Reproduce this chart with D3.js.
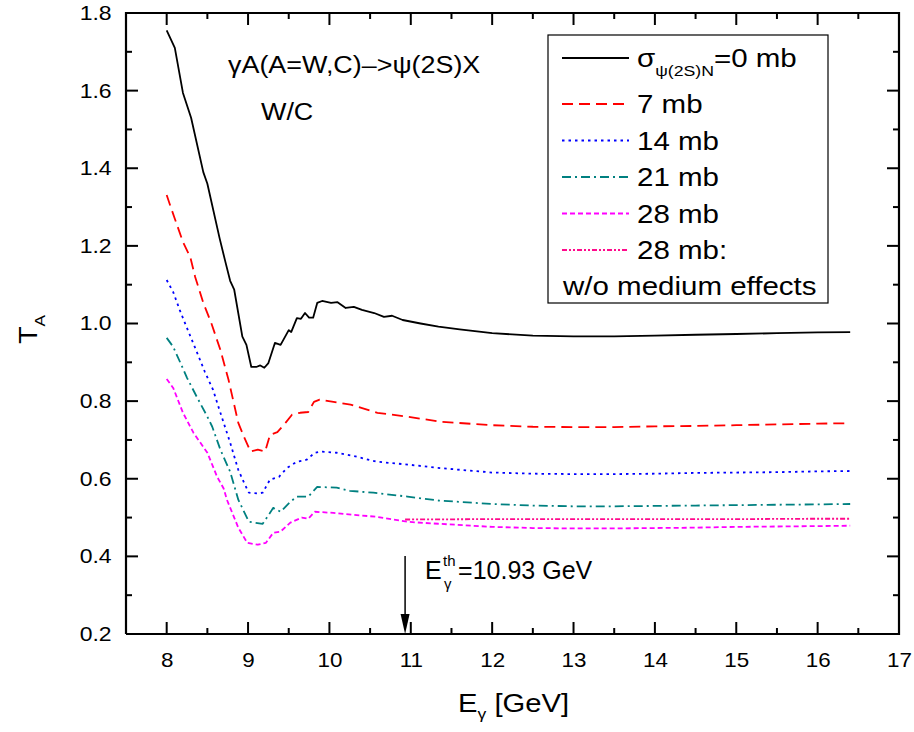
<!DOCTYPE html>
<html>
<head>
<meta charset="utf-8">
<script src="https://cdn.jsdelivr.net/npm/d3@7"></script>
</head>
<body style="margin:0">
<svg id="svg" width="914" height="732" font-family="Liberation Sans, Arial, sans-serif"></svg>
<script>
// values (E in GeV, T_A)
const e0 = [8.0, 8.1, 8.2, 8.3, 8.45, 8.5, 8.65, 8.72, 8.78, 8.83, 8.93, 8.98, 9.04, 9.1, 9.15, 9.2, 9.25, 9.33, 9.4, 9.5, 9.53, 9.6, 9.65, 9.7, 9.75, 9.8, 9.85, 9.91, 10.02, 10.1, 10.2, 10.3, 10.4, 10.55, 10.67, 10.77, 10.9, 11.12, 11.34, 11.6, 12.0, 12.5, 13.0, 13.5, 14.0, 14.5, 15.0, 15.5, 16.0, 16.4];
const t0 = [1.755, 1.71, 1.594, 1.53, 1.39, 1.36, 1.22, 1.16, 1.11, 1.087, 0.966, 0.945, 0.888, 0.888, 0.892, 0.886, 0.898, 0.95, 0.945, 0.983, 0.978, 1.014, 1.012, 1.027, 1.015, 1.015, 1.053, 1.058, 1.053, 1.055, 1.04, 1.043, 1.035, 1.027, 1.017, 1.02, 1.009, 1.0, 0.992, 0.985, 0.975, 0.969, 0.967, 0.967, 0.969, 0.971, 0.973, 0.975, 0.977, 0.978];

const e7 = [8.0, 8.05, 8.1, 8.2, 8.29, 8.35, 8.45, 8.55, 8.66, 8.76, 8.88, 8.95, 9.03, 9.12, 9.21, 9.27, 9.36, 9.46, 9.54, 9.64, 9.74, 9.81, 9.88, 10.05, 10.26, 10.59, 10.96, 11.36, 12.0, 12.5, 13.0, 13.5, 14.0, 14.5, 15.0, 15.5, 16.0, 16.4];
const t7 = [1.331, 1.30, 1.27, 1.21, 1.171, 1.12, 1.053, 1.0, 0.932, 0.855, 0.744, 0.708, 0.67, 0.675, 0.67, 0.713, 0.72, 0.744, 0.765, 0.77, 0.772, 0.798, 0.804, 0.798, 0.791, 0.77, 0.76, 0.747, 0.738, 0.734, 0.733, 0.733, 0.735, 0.736, 0.738, 0.740, 0.742, 0.743];

const e14 = [8.0, 8.08, 8.16, 8.25, 8.35, 8.47, 8.57, 8.66, 8.78, 8.88, 8.95, 9.01, 9.12, 9.18, 9.27, 9.38, 9.48, 9.6, 9.72, 9.82, 9.91, 10.09, 10.29, 10.58, 10.99, 11.33, 12.0, 12.5, 13.0, 13.5, 14.0, 14.5, 15.0, 15.5, 16.0, 16.4];
const t14 = [1.112, 1.081, 1.035, 0.988, 0.937, 0.875, 0.829, 0.77, 0.693, 0.623, 0.59, 0.564, 0.562, 0.564, 0.598, 0.605, 0.628, 0.644, 0.649, 0.667, 0.67, 0.667, 0.659, 0.644, 0.636, 0.628, 0.616, 0.613, 0.612, 0.612, 0.613, 0.615, 0.616, 0.617, 0.619, 0.620];

const e21 = [8.0, 8.08, 8.17, 8.25, 8.37, 8.5, 8.56, 8.66, 8.78, 8.88, 9.01, 9.18, 9.31, 9.4, 9.52, 9.6, 9.74, 9.85, 10.09, 10.25, 10.54, 10.96, 11.34, 12.0, 12.5, 13.0, 13.5, 14.0, 14.5, 15.0, 15.5, 16.0, 16.4];
const t21 = [0.963, 0.94, 0.898, 0.86, 0.811, 0.76, 0.734, 0.675, 0.618, 0.546, 0.489, 0.484, 0.525, 0.515, 0.541, 0.554, 0.554, 0.579, 0.577, 0.569, 0.564, 0.554, 0.544, 0.535, 0.531, 0.529, 0.529, 0.530, 0.531, 0.532, 0.533, 0.534, 0.535];

const e28 = [8.0, 8.08, 8.2, 8.33, 8.5, 8.62, 8.7, 8.74, 8.88, 8.99, 9.12, 9.22, 9.31, 9.4, 9.52, 9.66, 9.74, 9.82, 10.05, 10.29, 10.58, 10.96, 11.34, 12.0, 12.5, 13.0, 13.5, 14.0, 14.5, 15.0, 15.5, 16.0, 16.4];
const t28 = [0.857, 0.834, 0.77, 0.718, 0.667, 0.605, 0.575, 0.546, 0.474, 0.435, 0.43, 0.435, 0.461, 0.464, 0.487, 0.5, 0.497, 0.515, 0.512, 0.507, 0.502, 0.489, 0.484, 0.476, 0.473, 0.472, 0.472, 0.473, 0.474, 0.476, 0.477, 0.478, 0.479];

const eNoMed = [10.93, 12.0, 13.0, 14.0, 15.0, 16.0, 16.4];
const tNoMed = [0.495, 0.496, 0.496, 0.496, 0.496, 0.497, 0.497];

const legendLabels = ["=0 mb", "7 mb", "14 mb", "21 mb", "28 mb", "28 mb:"];
const xTicks = [8, 9, 10, 11, 12, 13, 14, 15, 16, 17];
const xMinor = [7.5, 8.5, 9.5, 10.5, 11.5, 12.5, 13.5, 14.5, 15.5, 16.5];
const yTicks = [0.2, 0.4, 0.6, 0.8, 1.0, 1.2, 1.4, 1.6, 1.8];
const yMinor = [0.3, 0.5, 0.7, 0.9, 1.1, 1.3, 1.5, 1.7];
const threshold = 10.93;

const series = [
    {e: e0, t: t0, color: "#000000", dash: null},
    {e: e7, t: t7, color: "#ff0000", dash: "11,6"},
    {e: e14, t: t14, color: "#0000ff", dash: "2.5,4"},
    {e: e21, t: t21, color: "#008080", dash: "9,4,2,4"},
    {e: e28, t: t28, color: "#ff00ff", dash: "5,3"},
    {e: eNoMed, t: tNoMed, color: "#ff0a8c", dash: "5,2,2,2,2,2"}
];

const svg = d3.select("#svg");
const xs = d3.scaleLinear().domain([7.5, 17]).range([126, 899]);
const ys = d3.scaleLinear().domain([0.2, 1.8]).range([634, 13]);

// the original text is a little wider than Arial, so stretch it horizontally
function stext(parent, px, py, size, sx) {
    return parent.append("text")
        .attr("transform", `translate(${px},${py}) scale(${sx},1)`)
        .attr("font-size", size)
        .attr("fill", "#000");
}

// ****************** frame: one path through the corners of the data box ***************************
const corners = [[7.5, 0.2], [17, 0.2], [17, 1.8], [7.5, 1.8], [7.5, 0.2]];
const edge = d3.line().x(d => xs(d[0])).y(d => ys(d[1]));
svg.append("path")
    .datum(corners)
    .attr("fill", "none")
    .attr("stroke", "#000")
    .attr("stroke-width", 2.2)
    .attr("stroke-linejoin", "miter")
    .attr("d", edge);

// tick marks as short paths through the scales
function tickPath(pts) {
    svg.append("path").datum(pts).attr("fill", "none")
        .attr("stroke", "#000").attr("stroke-width", 2).attr("d", edge);
}
xTicks.forEach(v => { tickPath([[v, 0.2], [v, ys.invert(622)]]); tickPath([[v, 1.8], [v, ys.invert(25)]]); });
xMinor.forEach(v => { tickPath([[v, 0.2], [v, ys.invert(628)]]); tickPath([[v, 1.8], [v, ys.invert(19)]]); });
yTicks.forEach(v => { tickPath([[7.5, v], [xs.invert(138), v]]); tickPath([[17, v], [xs.invert(887), v]]); });
yMinor.forEach(v => { tickPath([[7.5, v], [xs.invert(132), v]]); tickPath([[17, v], [xs.invert(893), v]]); });

// tick labels from d3 axes
const gb = svg.append("g").attr("transform", "translate(0,634)")
    .call(d3.axisBottom(xs).tickValues(xTicks).tickSize(0).tickPadding(19).tickFormat(d3.format("d")));
const gl = svg.append("g").attr("transform", "translate(126,0)")
    .call(d3.axisLeft(ys).tickValues(yTicks).tickSize(0).tickPadding(12.5).tickFormat(d3.format(".1f")));
[gb, gl].forEach(function (g) {
    g.select(".domain").remove();
    g.selectAll("line").remove();
    g.selectAll("text").attr("font-size", 20).attr("fill", "#000")
        .attr("font-family", "Liberation Sans, Arial, sans-serif");
});
gb.selectAll("text").attr("transform", "scale(1.12,1)");
gl.selectAll("text").attr("transform", "scale(1.15,1)");

// axis titles
let xt = stext(svg, 458, 712, 25, 1.17);
xt.append("tspan").text("E");
xt.append("tspan").attr("font-size", 15).attr("dy", 7).text("γ");
xt.append("tspan").attr("dy", -7).text(" [GeV]");

let yt = svg.append("text").attr("transform", "translate(37,344) rotate(-90) scale(1.15,1)")
    .attr("font-size", 25);
yt.append("tspan").text("T");
yt.append("tspan").attr("font-size", 15).attr("dy", 8).text("A");

// ****************** curves ***************************
series.forEach(function (s) {
    svg.append("path")
        .datum(d3.zip(s.e, s.t))
        .attr("fill", "none")
        .attr("stroke", s.color)
        .attr("stroke-width", 1.8)
        .attr("stroke-dasharray", s.dash)
        .attr("stroke-linejoin", "round")
        .attr("d", edge);
});

// ****************** annotations ***************************
stext(svg, 228, 73, 23, 1.17).text("γA(A=W,C)–>ψ(2S)X");
stext(svg, 261, 120, 23, 1.17).text("W/C");

// threshold arrow
const ax = xs(threshold);
svg.append("line").attr("x1", ax).attr("x2", ax).attr("y1", 556).attr("y2", 620)
    .attr("stroke", "#000").attr("stroke-width", 1.5);
svg.append("path")
    .attr("d", `M ${ax - 4.5} 614 L ${ax + 4.5} 614 L ${ax} 634 Z`)
    .attr("fill", "#000");
let eth = svg.append("g").attr("font-size", 25);
eth.append("text").attr("x", ax + 20).attr("y", 579).text("E");
eth.append("text").attr("x", ax + 38).attr("y", 566).attr("font-size", 15).text("th");
eth.append("text").attr("x", ax + 39).attr("y", 589).attr("font-size", 15).text("γ");
eth.append("text").attr("x", ax + 53).attr("y", 579).text("=10.93 GeV");

// ****************** legend ***************************
const lg = svg.append("g");
lg.append("rect").attr("x", 548).attr("y", 35).attr("width", 280).attr("height", 268)
    .attr("fill", "#fff").attr("stroke", "#000").attr("stroke-width", 1.2);
series.forEach(function (s, i) {
    const ly = i === 0 ? 58 : 104 + (i - 1) * 36.5;
    lg.append("line").attr("x1", 562).attr("x2", 629).attr("y1", ly).attr("y2", ly)
        .attr("stroke", s.color).attr("stroke-width", 1.8)
        .attr("stroke-dasharray", s.dash);
    const tx = stext(lg, 637, ly + 9, 25, 1.18);
    if (i === 0) {
        tx.append("tspan").text("σ");
        tx.append("tspan").attr("font-size", 15).attr("dy", 9).text("ψ(2S)N");
        tx.append("tspan").attr("dy", -9).text(legendLabels[i]);
    } else {
        tx.text(legendLabels[i]);
    }
});
stext(lg, 563, 295, 25, 1.18).text("w/o medium effects");
</script>
</body>
</html>
